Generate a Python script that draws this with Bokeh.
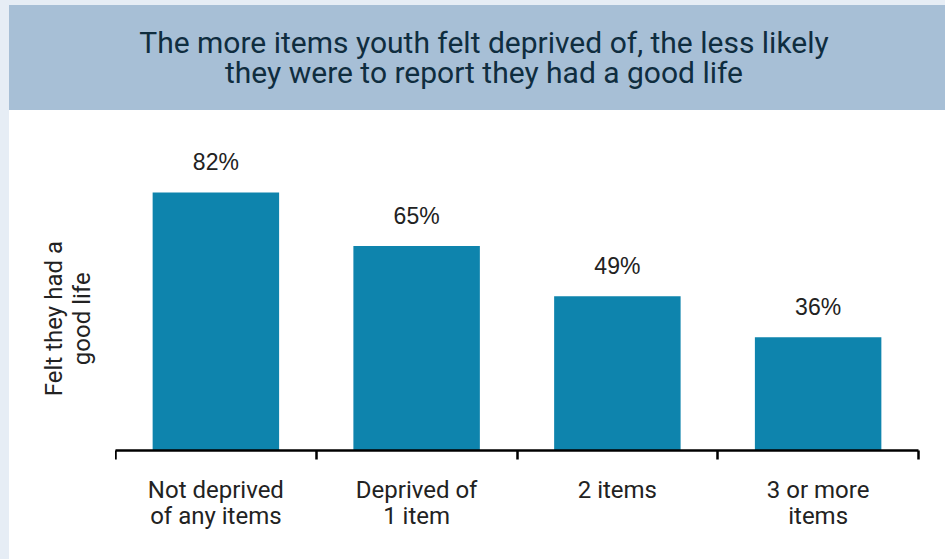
from bokeh.plotting import figure
from bokeh.models import ColumnDataSource, FixedTicker, Div
from bokeh.layouts import column, row
from bokeh.embed import file_html
from bokeh.resources import INLINE
from bokeh.core.properties import value

# ---- data ----
categories = ["Not deprived\nof any items", "Deprived of\n1 item", "2 items", "3 or more\nitems"]
values = [82, 65, 49, 36]
value_labels = ["82%", "65%", "49%", "36%"]
title_lines = ["The more items youth felt deprived of, the less likely",
               "they were to report they had a good life"]
y_label_lines = ["Felt they had a", "good life"]

BAR = "#0e84ad"
BAND = "#a7bfd6"
PAGE_BG = "#e6edf5"
TITLE_C = "#0f2d3f"
TXT = "#222222"
FONT = "Roboto"
NUM_FONT = "Liberation Sans"

positions = [i + 0.5 for i in range(len(categories))]
src = ColumnDataSource(dict(x=positions, top=values, lab=value_labels))

W = 936
H = 554
title_h = 105
fig_h = H - title_h
lab_w = 106
plot_w = W - lab_w

p = figure(width=plot_w, height=fig_h, x_range=(0, len(categories)), y_range=(0, 101.7),
           output_backend="svg", toolbar_location=None,
           min_border_left=0, min_border_right=27, min_border_top=20, min_border_bottom=109)
p.outline_line_color = None
p.background_fill_color = "#ffffff"
p.border_fill_color = "#ffffff"
p.xgrid.visible = False
p.ygrid.visible = False
p.yaxis.visible = False

p.vbar(x="x", top="top", width=0.63, bottom=0, source=src, fill_color=BAR, line_color=None)
p.text(x="x", y="top", text="lab", source=src, text_align="center", text_baseline="alphabetic",
       y_offset=-30, text_font=value(NUM_FONT), text_font_size="23px", text_color=TXT)

xa = p.xaxis[0]
xa.ticker = FixedTicker(ticks=positions, minor_ticks=list(range(len(categories) + 1)))
xa.major_label_overrides = {pos: c for pos, c in zip(positions, categories)}
xa.major_tick_out = 0
xa.major_tick_in = 0
xa.minor_tick_out = 9
xa.minor_tick_in = 0
xa.minor_tick_line_color = "black"
xa.minor_tick_line_width = 2.5
xa.axis_line_color = "black"
xa.axis_line_width = 2.5
xa.major_label_text_font = FONT
xa.major_label_text_font_size = "24px"
xa.major_label_text_line_height = 0.95
xa.major_label_text_color = TXT
xa.major_label_standoff = 16

ylab_html = (
    f'<div style="width:{lab_w}px;height:{fig_h}px;box-sizing:border-box;background:#ffffff;'
    f'padding-left:12px;padding-bottom:31px;display:flex;align-items:center;justify-content:center;">'
    f'<div style="writing-mode:vertical-rl;transform:rotate(180deg);text-align:center;'
    f'font-family:{FONT};font-size:24px;line-height:28px;color:{TXT};">'
    + "<br>".join(y_label_lines) + "</div></div>"
)
ylab_div = Div(text=ylab_html, width=lab_w, height=fig_h, margin=(0, 0, 0, 0))

title_html = (
    f'<div style="width:{W}px;height:{title_h}px;background:{BAND};color:{TITLE_C};'
    f'font-family:{FONT};font-size:30px;line-height:30px;display:flex;align-items:center;'
    f'justify-content:center;text-align:center;padding-left:14px;box-sizing:border-box;">'
    + "<br>".join(title_lines) + "</div>"
)
title_div = Div(text=title_html, width=W, height=title_h, margin=(0, 0, 0, 0))

layout = column(title_div, row(ylab_div, p, spacing=0), spacing=0)
html = file_html(layout, INLINE)
html = html.replace(
    "</head>",
    f"<style>html{{margin:0;padding:0;overflow:hidden;background-color:{PAGE_BG};}}"
    f"body{{margin:5px 0 0 9px;padding:0;width:{W}px;height:{H}px;background-color:#ffffff;}}"
    f"</style></head>", 1)
open("out.html", "w").write(html)
